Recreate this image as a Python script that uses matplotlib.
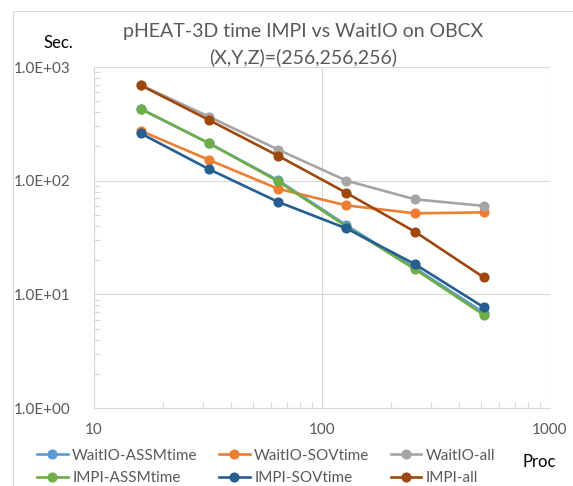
import matplotlib
matplotlib.use("Agg")
import matplotlib.pyplot as plt
from matplotlib.patches import Rectangle
from matplotlib.ticker import LogLocator, NullFormatter, FixedLocator

plt.rcParams['font.family'] = ['Lato', 'DejaVu Sans']

procs = [16, 32, 64, 128, 256, 512]

waitio_assm = [429, 213, 101, 40.5, 17.0, 6.9]
waitio_sov = [275, 152, 85, 60.6, 51.6, 52.6]
waitio_all = [695, 365, 188, 100, 68.5, 60]
impi_assm = [429, 213, 99, 39.5, 16.6, 6.6]
impi_sov = [261, 126, 65.2, 38, 18.4, 7.7]
impi_all = [692, 341, 166, 78, 35.5, 14.1]

series = [
    ("WaitIO-ASSMtime", waitio_assm, "#5B9BD5"),
    ("WaitIO-SOVtime", waitio_sov, "#ED7D31"),
    ("WaitIO-all", waitio_all, "#A5A5A5"),
    ("IMPI-ASSMtime", impi_assm, "#70AD47"),
    ("IMPI-SOVtime", impi_sov, "#255E91"),
    ("IMPI-all", impi_all, "#9E480E"),
]

x_ticks = [10, 100, 1000]
x_tick_labels = ["10", "100", "1000"]
y_ticks = [1, 10, 100, 1000]
y_tick_labels = ["1.0E+00", "1.0E+01", "1.0E+02", "1.0E+03"]

W, H = 573, 486
fig = plt.figure(figsize=(W / 100, H / 100), dpi=100)

# outer chart frame
fig.patches.append(Rectangle((13 / W, -0.1), 1.2, 1 - 11 / H + 0.1,
                             transform=fig.transFigure, fill=False,
                             edgecolor="#D9D9D9", linewidth=0.8))

left, right, top, bottom = 94, 550, 67, 408
ax = fig.add_axes([left / W, 1 - bottom / H, (right - left) / W, (bottom - top) / H])

handles = {}
for name, vals, color in series:
    h, = ax.plot(procs, vals, color=color, linewidth=1.9, marker="o",
                 markersize=6.3, label=name, zorder=3)
    handles[name] = h

ax.set_xscale("log")
ax.set_yscale("log")
ax.set_xlim(10, 1000)
ax.set_ylim(1, 1000)

ax.xaxis.set_major_locator(FixedLocator(x_ticks))
ax.set_xticklabels(x_tick_labels)
ax.yaxis.set_major_locator(FixedLocator(y_ticks))
ax.set_yticklabels(y_tick_labels)
ax.xaxis.set_minor_locator(LogLocator(base=10, subs=range(2, 10)))
ax.yaxis.set_minor_locator(LogLocator(base=10, subs=range(2, 10)))
ax.xaxis.set_minor_formatter(NullFormatter())
ax.yaxis.set_minor_formatter(NullFormatter())

ax.tick_params(which="major", length=0, labelsize=11, labelcolor="#595959")
ax.tick_params(axis="y", which="major", pad=17)
ax.tick_params(axis="x", which="major", pad=11)
ax.tick_params(which="minor", direction="in", length=4, color="#D9D9D9", width=0.8)

ax.grid(True, which="major", color="#D9D9D9", linewidth=0.8)
ax.set_axisbelow(True)
for side in ["top", "right"]:
    ax.spines[side].set_visible(False)
for side in ["left", "bottom"]:
    ax.spines[side].set_color("#D9D9D9")
    ax.spines[side].set_linewidth(0.8)

fig.text(303 / W, 1 - 32 / H, "pHEAT-3D time IMPI vs WaitIO on OBCX",
         ha="center", va="center", fontsize=14, color="#595959")
fig.text(303 / W, 1 - 57 / H, "(X,Y,Z)=(256,256,256)",
         ha="center", va="center", fontsize=14, color="#595959")
fig.text(58 / W, 1 - 43 / H, "Sec.", ha="center", va="center", fontsize=12, color="black")
fig.text(539 / W, 1 - 462 / H, "Proc", ha="center", va="center", fontsize=12, color="black")

order = ["WaitIO-ASSMtime", "IMPI-ASSMtime", "WaitIO-SOVtime",
         "IMPI-SOVtime", "WaitIO-all", "IMPI-all"]
fig.legend([handles[n] for n in order], order, ncol=3,
           loc="center left", bbox_to_anchor=(37 / W, 1 - 467 / H),
           frameon=False, fontsize=11, labelcolor="#595959",
           handlelength=2.0, handletextpad=0.3, columnspacing=1.4,
           labelspacing=0.55, borderpad=0, borderaxespad=0)

fig.savefig("out.png", dpi=100)
